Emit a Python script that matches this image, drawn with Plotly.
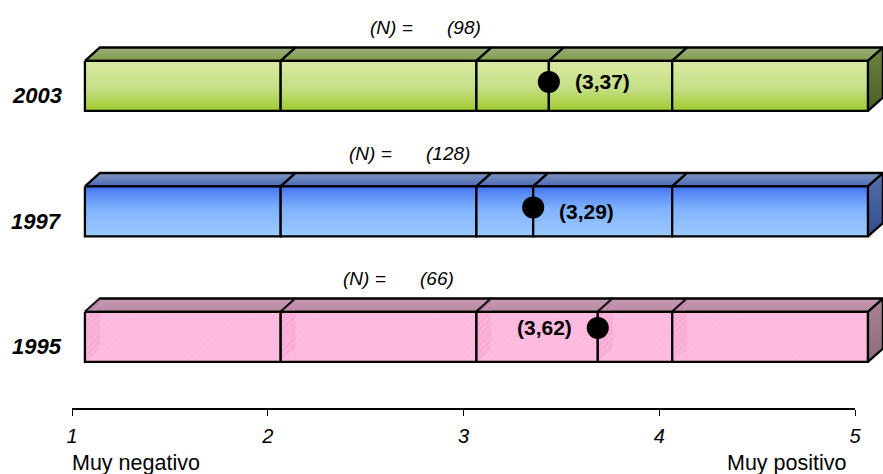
import plotly.graph_objects as go

# ---------------- data ----------------
years = ["2003", "1997", "1995"]
means = [3.37, 3.29, 3.62]
mean_labels = ["(3,37)", "(3,29)", "(3,62)"]
n_values = [98, 128, 66]
scale_ticks = [1, 2, 3, 4, 5]
scale_low = "Muy negativo"
scale_high = "Muy positivo"

# ---------------- layout / style constants ----------------
W, H = 883, 474
AX_L, AX_R = 72, 855            # pixel of scale value 1 and 5
PX_PER_X = (AX_R - AX_L) / (scale_ticks[-1] - scale_ticks[0])
ROW0, ROW_PX = 85.9, 125.5      # pixel centre of first bar front face, row pitch
AXIS_Y_PX = 409
END_LABEL_Y_PX = 463

FRONT_OFF = 0.066               # front face offset from scale (x units)
HALF_H = 25 / ROW_PX
DX = 15 / PX_PER_X              # 3D depth
DY = 13.4 / ROW_PX

MARK_DY_PX = [-4, -4, -9]
LABEL_DY_PX = [-4, 0, -9]
LABEL_SIDE = ["right", "right", "left"]
N_LABEL_X = [2.83, 2.72, 2.69]

FONT = "Liberation Sans, Arial, sans-serif"
LW = 2.3

themes = [
    dict(  # green
        front=[[0, "#9fca2e"], [0.45, "#c5df86"], [1, "#d9eaa2"]],
        top=[[0, "#809f48"], [1, "#9daa80"]],
        side=[[0, "#4a6023"], [1, "#6d8142"]],
        pattern=False,
    ),
    dict(  # blue
        front=[[0, "#9ccaff"], [0.55, "#80b2fd"], [0.85, "#5a8cf7"], [1, "#3f6ff2"]],
        top=[[0, "#4b69b7"], [1, "#7f97c1"]],
        side=[[0, "#2f4c8c"], [1, "#5670a8"]],
        pattern=False,
    ),
    dict(  # pink (translucent, hatched)
        front=None,
        top=[[0, "#b88aa3"], [1, "#c79bb1"]],
        side=[[0, "#8f6a7c"], [1, "#a88496"]],
        pattern=True,
    ),
]

fig = go.Figure()


def poly(xs, ys, grad=None, color=None, pattern=None, width=LW):
    xs = list(xs) + [xs[0]]
    ys = list(ys) + [ys[0]]
    kw = dict(x=xs, y=ys, mode="lines", fill="toself",
              line=dict(color="black", width=width),
              hoverinfo="skip", showlegend=False)
    if grad is not None:
        kw["fillgradient"] = dict(type="vertical", colorscale=grad)
    if color is not None:
        kw["fillcolor"] = color
    if pattern is not None:
        kw["fillpattern"] = pattern
    fig.add_trace(go.Scatter(**kw))


for i, (yr, m) in enumerate(zip(years, means)):
    th = themes[i]
    yc = i
    yt, yb = yc - HALF_H, yc + HALF_H
    bounds = sorted(set(scale_ticks + [m]))
    xs = [b + FRONT_OFF for b in bounds]
    segs = list(zip(xs[:-1], xs[1:]))

    # top faces
    for a, b in segs:
        poly([a, b, b + DX, a + DX], [yt, yt, yt - DY, yt - DY], grad=th["top"])
    # right side face
    xe = xs[-1]
    poly([xe, xe + DX, xe + DX, xe], [yt, yt - DY, yb - DY, yb], grad=th["side"])

    if th["pattern"]:
        # inner left faces visible through translucent front
        for a, b in segs:
            poly([a, a + DX, a + DX, a], [yb, yb - DY, yt - DY, yt],
                 color="rgba(200,130,170,0.4)",
                 pattern=dict(shape="/", fgcolor="rgba(120,80,105,0.6)",
                              bgcolor="rgba(215,150,185,0.4)", size=4, solidity=0.3),
                 width=0)
        for a, b in segs:
            poly([a, b, b, a], [yt, yt, yb, yb],
                 color="rgba(255,166,213,0.8)",
                 pattern=dict(shape="/", fgcolor="rgba(255,205,232,0.55)",
                              bgcolor="rgba(255,166,213,0.78)", size=5, solidity=0.25))
    else:
        for a, b in segs:
            poly([a, b, b, a], [yt, yt, yb, yb], grad=th["front"])

    # mean marker
    my = yc + MARK_DY_PX[i] / ROW_PX
    fig.add_trace(go.Scatter(x=[m + FRONT_OFF], y=[my], mode="markers",
                             marker=dict(size=22, color="black"),
                             hoverinfo="skip", showlegend=False))
    # mean label
    ly = yc + LABEL_DY_PX[i] / ROW_PX
    right = LABEL_SIDE[i] == "right"
    fig.add_annotation(x=m + FRONT_OFF, y=ly, xref="x", yref="y",
                       text="<b>%s</b>" % mean_labels[i], showarrow=False,
                       xanchor="left" if right else "right",
                       xshift=24 if right else -24,
                       font=dict(family=FONT, size=21, color="black"))
    # year label
    fig.add_annotation(x=scale_ticks[0], y=yc + 10 / ROW_PX, xref="x", yref="y",
                       text="<b><i>%s</i></b>" % yr, showarrow=False,
                       xanchor="right", xshift=-8,
                       font=dict(family=FONT, size=22, color="black"))
    # N labels
    ny = yt - DY - 20 / ROW_PX
    fig.add_annotation(x=N_LABEL_X[i], y=ny, xref="x", yref="y",
                       text="<i>(N) =</i>", showarrow=False, xanchor="right", xshift=-15,
                       font=dict(family=FONT, size=19, color="black"))
    fig.add_annotation(x=N_LABEL_X[i], y=ny, xref="x", yref="y",
                       text="<i>(%d)</i>" % n_values[i], showarrow=False, xanchor="left", xshift=15,
                       font=dict(family=FONT, size=19, color="black"))

# dummy trace for the visible scale axis
fig.add_trace(go.Scatter(x=[scale_ticks[0], scale_ticks[-1]], y=[0, 0], xaxis="x2", yaxis="y",
                         mode="markers", marker=dict(opacity=0), hoverinfo="skip", showlegend=False))

end_y = (END_LABEL_Y_PX - ROW0) / ROW_PX
fig.add_annotation(x=scale_ticks[0], y=end_y, xref="x", yref="y", text=scale_low,
                   showarrow=False, xanchor="left", xshift=-2,
                   font=dict(family=FONT, size=21.5, color="black"))
fig.add_annotation(x=scale_ticks[-1], y=end_y, xref="x", yref="y", text=scale_high,
                   showarrow=False, xanchor="right", xshift=-6,
                   font=dict(family=FONT, size=21.5, color="black"))

x0 = scale_ticks[0] - AX_L / PX_PER_X
x1 = scale_ticks[0] + (W - AX_L) / PX_PER_X
fig.update_layout(
    width=W, height=H,
    autosize=False,
    margin=dict(l=0, r=0, t=0, b=0, pad=0, autoexpand=False),
    paper_bgcolor="white", plot_bgcolor="rgba(0,0,0,0)",
    showlegend=False,
    xaxis=dict(domain=[0, 1], range=[x0, x1], visible=False, fixedrange=True, automargin=False),
    yaxis=dict(domain=[0, 1], range=[(H - ROW0) / ROW_PX, -ROW0 / ROW_PX],
               visible=False, fixedrange=True, automargin=False),
    xaxis2=dict(domain=[AX_L / W, AX_R / W], range=[scale_ticks[0], scale_ticks[-1]],
                anchor="free", position=(H - AXIS_Y_PX) / H, automargin=False,
                showline=True, linecolor="black", linewidth=1.5,
                ticks="outside", ticklen=6, tickcolor="black", tickwidth=1,
                tickvals=scale_ticks, ticktext=[str(t) for t in scale_ticks],
                tickfont=dict(family=FONT, size=20, color="black", style="italic"),
                ticklabelstandoff=3,
                showgrid=False, zeroline=False, fixedrange=True),
)

fig.write_html(
    "out.html",
    config={"displayModeBar": False},
    post_script="document.body.style.margin='0';document.body.style.overflow='hidden';",
)
